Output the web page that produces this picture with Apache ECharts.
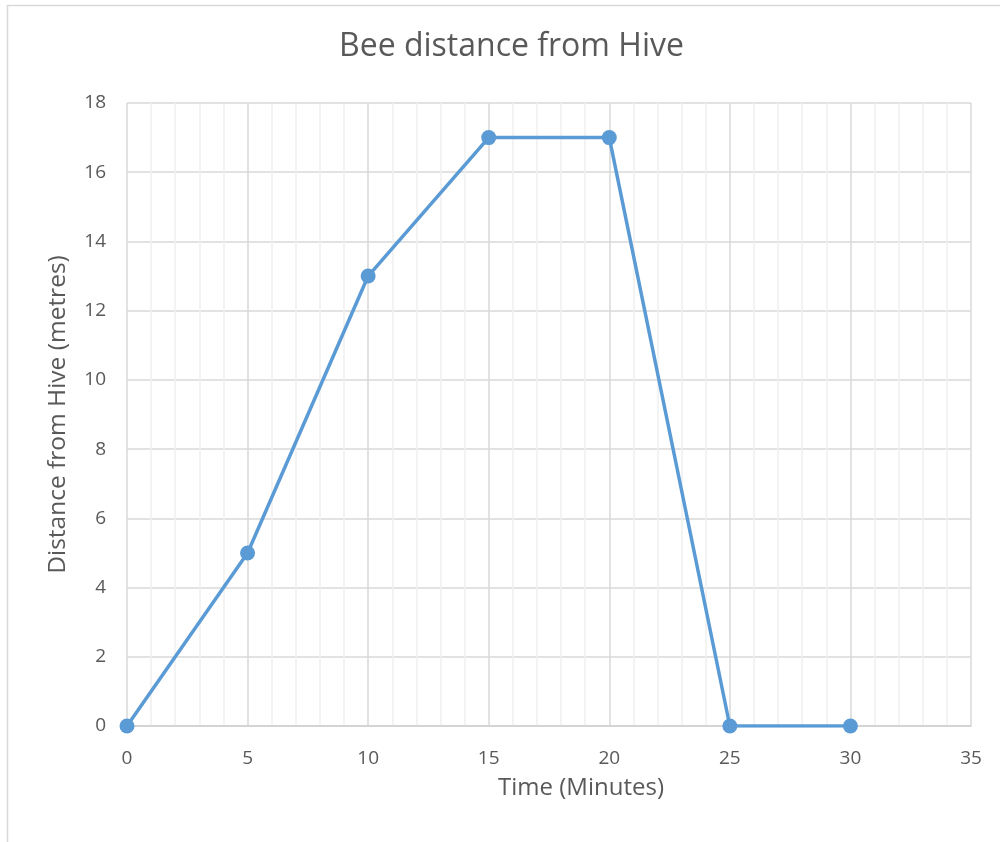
<!DOCTYPE html>
<html>
<head>
<meta charset="utf-8">
<script src="https://cdn.jsdelivr.net/npm/echarts@6/dist/echarts.min.js"></script>
<style>html,body{margin:0;padding:0;background:#fff}#c{width:1000px;height:842px}</style>
</head>
<body>
<div id="c"></div>
<script>
const titleText = 'Bee distance from Hive';
const xName = 'Time (Minutes)';
const yName = 'Distance from Hive (metres)';
const timeMinutes = [0, 5, 10, 15, 20, 25, 30];
const distanceMetres = [0, 5, 13, 17, 17, 0, 0];

const chart = echarts.init(document.getElementById('c'));
const font = '"Open Sans", "Liberation Sans", sans-serif';
chart.setOption({
  animation: false,
  backgroundColor: '#fff',
  textStyle: { fontFamily: font },
  graphic: [{
    type: 'rect', shape: { x: 7.5, y: 5.5, width: 1000, height: 840 },
    style: { fill: 'none', stroke: '#d9d9d9', lineWidth: 1.5 }, silent: true, z: -1
  }],
  title: {
    text: titleText, left: 334, top: 26,
    textStyle: { fontFamily: font, fontSize: 32, fontWeight: 'normal', color: '#595959' }
  },
  grid: { left: 127, right: 29, top: 103, bottom: 116, containLabel: false },
  xAxis: {
    type: 'value', min: 0, max: 35, interval: 5,
    name: xName, nameLocation: 'middle', nameGap: 50,
    nameTextStyle: { fontFamily: font, fontSize: 24, color: '#595959', padding: [0, 0, 0, 64] },
    axisLine: { show: true, lineStyle: { color: '#d0d0d0', width: 1.5 } },
    axisTick: { show: false },
    axisLabel: { color: '#595959', fontSize: 19, margin: 23, fontFamily: font },
    splitLine: { show: true, lineStyle: { color: '#d9d9d9', width: 1.5 } },
    minorTick: { show: false, splitNumber: 5 },
    minorSplitLine: { show: true, lineStyle: { color: '#f0f0f0', width: 1.5 } }
  },
  yAxis: {
    type: 'value', min: 0, max: 18, interval: 2,
    name: yName, nameLocation: 'middle', nameGap: 56, nameRotate: 90,
    nameTextStyle: { fontFamily: font, fontSize: 24.5, color: '#595959' },
    axisLine: { show: false },
    axisTick: { show: false },
    axisLabel: { color: '#595959', fontSize: 19, margin: 21, fontFamily: font },
    splitLine: { show: true, lineStyle: { color: '#d9d9d9', width: 1.5 } }
  },
  series: [{
    type: 'line',
    data: timeMinutes.map((t, i) => [t, distanceMetres[i]]),
    symbol: 'circle', symbolSize: 15,
    lineStyle: { color: '#5b9bd5', width: 3.5 },
    itemStyle: { color: '#5b9bd5' },
    z: 3
  }]
});
</script>
</body>
</html>
